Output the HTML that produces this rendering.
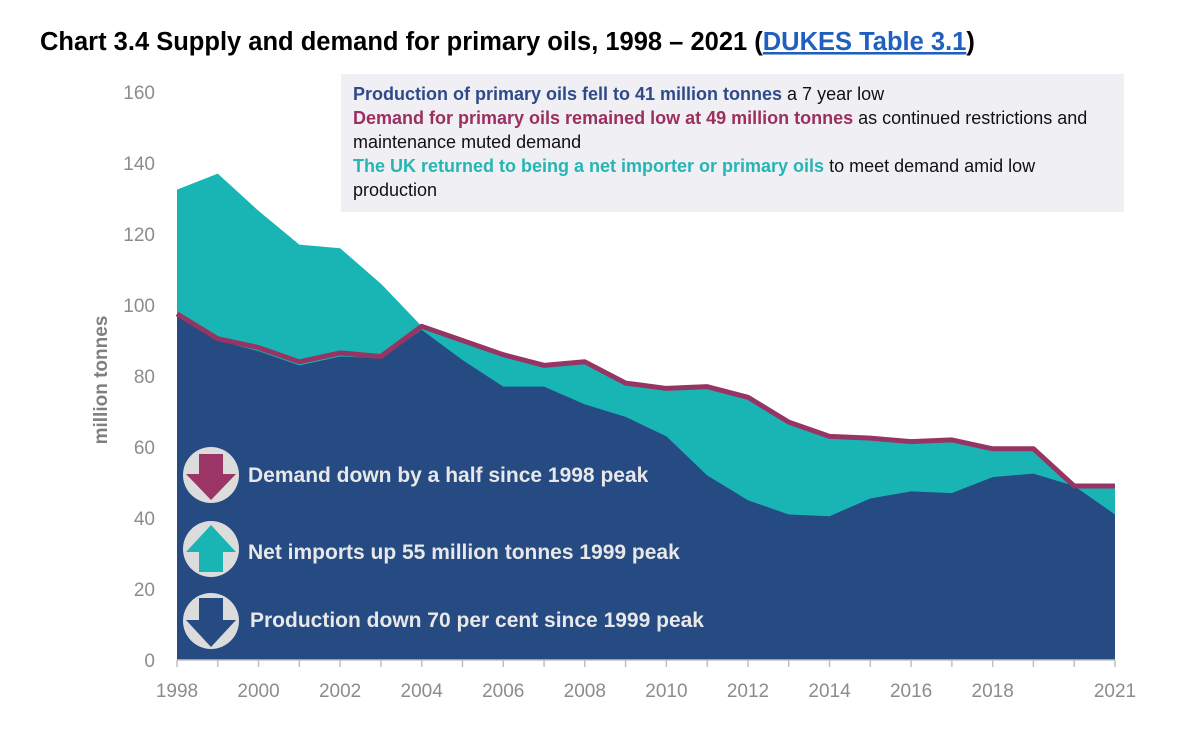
<!DOCTYPE html>
<html><head><meta charset="utf-8"><style>
body{margin:0;background:#fff;width:1200px;height:730px;overflow:hidden;font-family:"Liberation Sans",sans-serif}
</style></head><body>
<svg id="c" width="1200" height="730" xmlns="http://www.w3.org/2000/svg">
<text x="40" y="50" font-size="25.5" font-weight="bold" fill="#000">Chart 3.4 Supply and demand for primary oils, 1998 – 2021 (<tspan fill="#1f5fbf" text-decoration="underline">DUKES Table 3.1</tspan>)</text>
<g id="yt"></g><g id="areas"></g><g id="xt"></g>
<text transform="translate(107,380) rotate(-90)" text-anchor="middle" font-size="19" font-weight="bold" fill="#7f7f7f">million tonnes</text>
<rect x="341" y="74" width="783" height="138" fill="#f0eff3"/>
<g font-size="18" font-family="Liberation Sans,sans-serif">
<text x="353" y="100"><tspan fill="#2f4a8a" font-weight="bold">Production of primary oils fell to 41 million tonnes</tspan><tspan fill="#111"> a 7 year low</tspan></text>
<text x="353" y="124"><tspan fill="#9b2f62" font-weight="bold">Demand for primary oils remained low at 49 million tonnes</tspan><tspan fill="#111">  as continued restrictions and</tspan></text>
<text x="353" y="148" fill="#111">maintenance muted demand</text>
<text x="353" y="172"><tspan fill="#25b5b5" font-weight="bold">The UK returned to being a net importer or primary oils</tspan><tspan fill="#111"> to meet demand amid low</tspan></text>
<text x="353" y="196" fill="#111">production</text>
</g>
<g>
<circle cx="211" cy="475" r="28" fill="#dcdcdc"/>
<polygon points="199,454 223,454 223,474 236,474 211,500 186,474 199,474" fill="#9b3566"/>
<text x="248" y="482" font-size="21" font-weight="bold" fill="#e8e8e8">Demand down by a half since 1998 peak</text></g>
<g>
<circle cx="211" cy="549" r="28" fill="#dcdcdc"/>
<polygon points="199,572 223,572 223,552 236,552 211,525 186,552 199,552" fill="#19b5b5"/>
<text x="248" y="559" font-size="21" font-weight="bold" fill="#e8e8e8">Net imports up 55 million tonnes 1999 peak</text></g>
<g>
<circle cx="211" cy="621" r="28" fill="#dcdcdc"/>
<polygon points="199,598 223,598 223,620 236,620 211,647 186,620 199,620" fill="#264a82"/>
<text x="250" y="627" font-size="21" font-weight="bold" fill="#e8e8e8">Production down 70 per cent since 1999 peak</text></g>
</svg>
<script>
const years=[1998,1999,2000,2001,2002,2003,2004,2005,2006,2007,2008,2009,2010,2011,2012,2013,2014,2015,2016,2017,2018,2019,2020,2021];
const production=[97,90,87,83,85.5,85,93,84.5,77,77,72,68.5,63,52,45,41,40.5,45.5,47.5,47,51.5,52.5,49,41];
const demand=[97.5,90.5,88,84,86.5,85.5,94,90,86,83,84,78,76.5,77,74,67,63,62.5,61.5,62,59.5,59.5,49,49];
const supplyTop=[132.5,137,126.5,117,116,106,94,90,86,83,84,78,76.5,77,74,67,63,62.5,61.5,62,59.5,59.5,49,49];
const yTicks=[0,20,40,60,80,100,120,140,160];
const xLabels=[1998,2000,2002,2004,2006,2008,2010,2012,2014,2016,2018,2021];
const NS="http://www.w3.org/2000/svg";
const X=y=>177+(y-1998)*(1115-177)/23;
const Y=v=>660-v*3.55;
function mk(t,a,p){const e=document.createElementNS(NS,t);for(const k in a)e.setAttribute(k,a[k]);p.appendChild(e);return e;}
const yt=document.getElementById('yt'),ar=document.getElementById('areas'),xt=document.getElementById('xt');
yTicks.forEach(v=>{const t=mk('text',{x:155,y:Y(v)+7,'text-anchor':'end','font-size':19,fill:'#8c8c8c'},yt);t.textContent=v;

});
function pts(arr){return years.map((y,i)=>X(y)+','+Y(arr[i])).join(' ');}
const base=X(2021)+','+Y(0)+' '+X(1998)+','+Y(0);
const teal=mk('polygon',{points:pts(supplyTop)+' '+base,fill:'#19b5b5'},ar);


const blue=mk('polygon',{points:pts(production)+' '+base,fill:'#264a82'},ar);


const dl=mk('polyline',{points:pts(demand),fill:'none',stroke:'#963563','stroke-width':5,'stroke-linejoin':'round'},ar);


const ax=mk('line',{x1:X(1998),x2:X(2021),y1:660,y2:660,stroke:'#bfbfbf','stroke-width':1.5},xt);


years.forEach(y=>{const l=mk('line',{x1:X(y),x2:X(y),y1:660,y2:667,stroke:'#bfbfbf','stroke-width':1.5},xt);

});
xLabels.forEach(y=>{const t=mk('text',{x:X(y),y:697,'text-anchor':'middle','font-size':19,fill:'#8c8c8c'},xt);t.textContent=y;

});
</script>
</body></html>
